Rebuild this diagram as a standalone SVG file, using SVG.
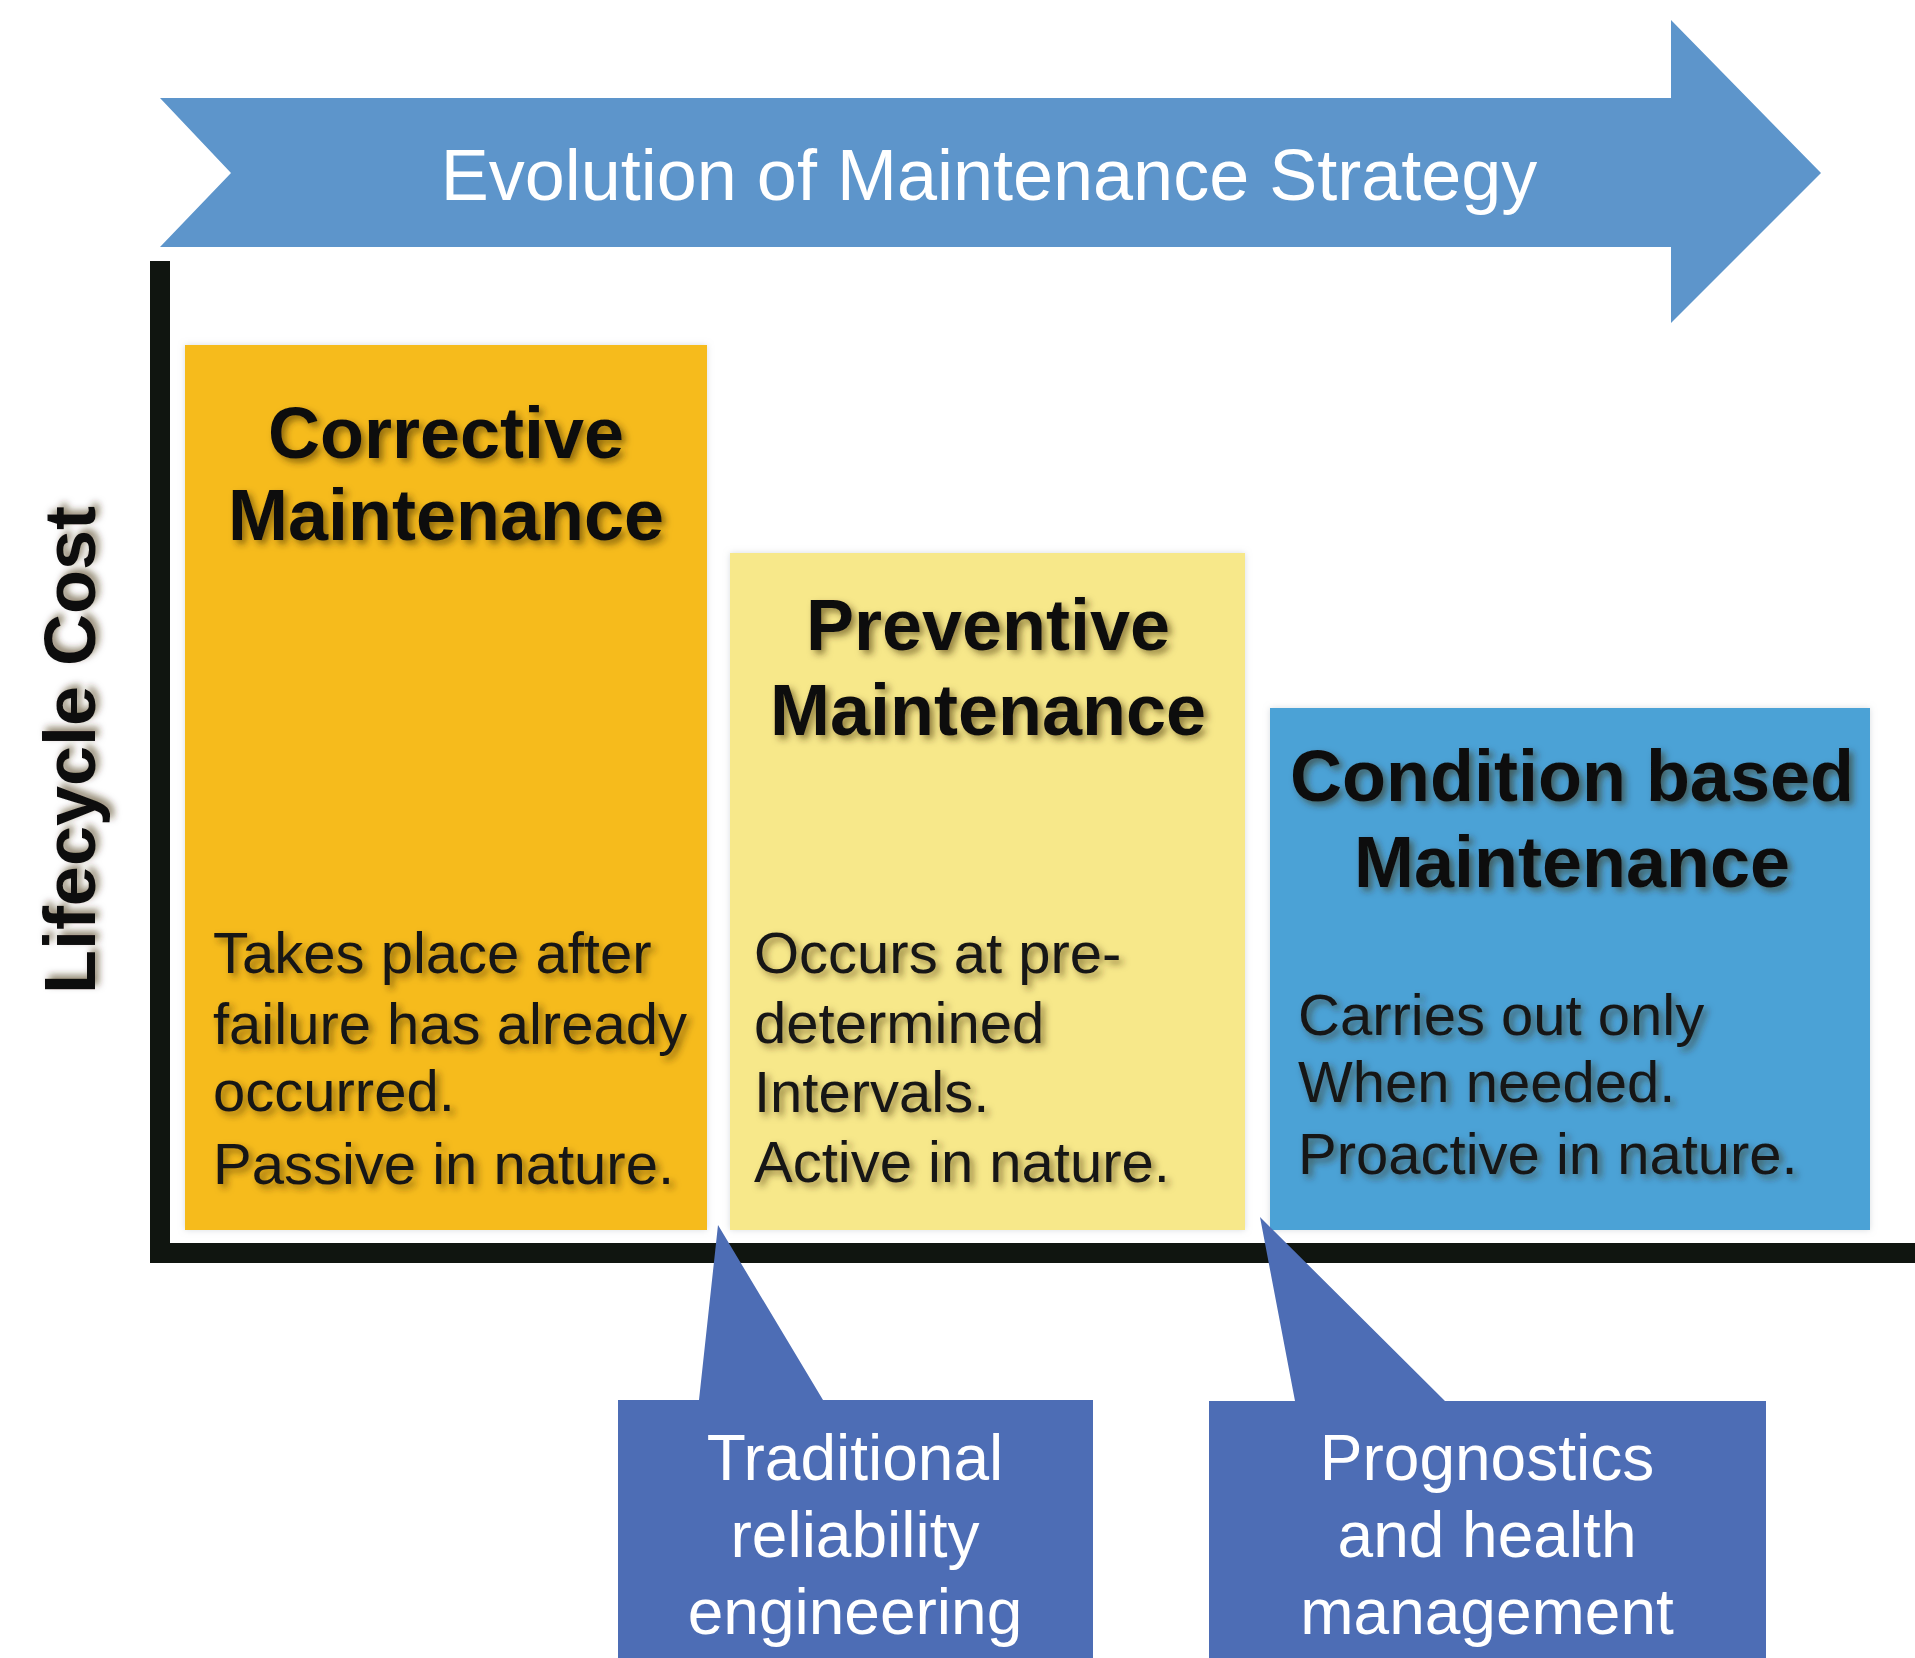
<svg xmlns="http://www.w3.org/2000/svg" width="1915" height="1658" viewBox="0 0 1915 1658">
  <defs>
    <filter id="tshadow" x="-10%" y="-30%" width="130%" height="170%">
      <feDropShadow dx="4" dy="4" stdDeviation="3.5" flood-color="#3a2a00" flood-opacity="0.55"/>
    </filter>
    <filter id="bshadow" x="-5%" y="-5%" width="110%" height="110%">
      <feDropShadow dx="0" dy="0" stdDeviation="3" flood-color="#b0b8c0" flood-opacity="0.5"/>
    </filter>
  </defs>
  <style>
    .title { font-family: "Liberation Sans", Arial, sans-serif; font-weight: bold; font-size: 72px; fill: #111; text-anchor: middle; }
    .body { font-family: "Liberation Sans", Arial, sans-serif; font-size: 58px; fill: #151515; }
    .white { font-family: "Liberation Sans", Arial, sans-serif; font-size: 64px; fill: #ffffff; text-anchor: middle; }
    .big { font-size: 72px; }
    .callout { fill: #4d6db5; }
  </style>
  <rect width="1915" height="1658" fill="#ffffff"/>

  <g id="strategy-arrow">
    <path d="M160,98 L1671,98 L1671,20 L1821,173 L1671,323 L1671,247 L160,247 L231,173 Z" fill="#5d95cb"/>
    <text class="white big" x="989" y="200">Evolution of Maintenance Strategy</text>
  </g>

  <g id="axes">
    <rect x="150" y="261" width="20" height="1002" fill="#101510"/>
    <rect x="150" y="1243" width="1765" height="20" fill="#101510"/>
    <text class="title" transform="translate(95,750) rotate(-90)" filter="url(#tshadow)">Lifecycle Cost</text>
  </g>

  <g id="corrective">
    <rect x="185" y="345" width="522" height="885" fill="#f6bb1a" filter="url(#bshadow)"/>
    <text class="title" x="446" y="458" filter="url(#tshadow)">Corrective</text>
    <text class="title" x="446" y="540" filter="url(#tshadow)">Maintenance</text>
    <text class="body" x="213" filter="url(#tshadow)"><tspan x="213" y="973">Takes place after</tspan><tspan x="213" y="1044">failure has already</tspan><tspan x="213" y="1111">occurred.</tspan><tspan x="213" y="1184">Passive in nature.</tspan></text>
  </g>

  <g id="preventive">
    <rect x="730" y="553" width="515" height="677" fill="#f7e88a" filter="url(#bshadow)"/>
    <text class="title" x="988" y="650" filter="url(#tshadow)">Preventive</text>
    <text class="title" x="988" y="735" filter="url(#tshadow)">Maintenance</text>
    <text class="body" x="754" filter="url(#tshadow)"><tspan x="754" y="973">Occurs at pre-</tspan><tspan x="754" y="1043">determined</tspan><tspan x="754" y="1112">Intervals.</tspan><tspan x="754" y="1182">Active in nature.</tspan></text>
  </g>

  <g id="condition">
    <rect x="1270" y="708" width="600" height="522" fill="#4ba2d6" filter="url(#bshadow)"/>
    <text class="title" x="1572" y="801" filter="url(#tshadow)">Condition based</text>
    <text class="title" x="1572" y="887" filter="url(#tshadow)">Maintenance</text>
    <text class="body" x="1298" filter="url(#tshadow)"><tspan x="1298" y="1035">Carries out only</tspan><tspan x="1298" y="1102">When needed.</tspan><tspan x="1298" y="1174">Proactive in nature.</tspan></text>
  </g>

  <g id="connectors">
    <path class="callout" d="M618,1400 L699,1400 L718,1225 L823,1400 L1093,1400 L1093,1658 L618,1658 Z"/>
    <path class="callout" d="M1209,1401 L1295,1401 L1260,1217 L1445,1401 L1766,1401 L1766,1658 L1209,1658 Z"/>
  </g>

  <g id="traditional">
    <text class="white" x="855" y="1480">Traditional</text>
    <text class="white" x="855" y="1557">reliability</text>
    <text class="white" x="855" y="1634">engineering</text>
  </g>

  <g id="phm">
    <text class="white" x="1487" y="1480">Prognostics</text>
    <text class="white" x="1487" y="1557">and health</text>
    <text class="white" x="1487" y="1634">management</text>
  </g>
</svg>
